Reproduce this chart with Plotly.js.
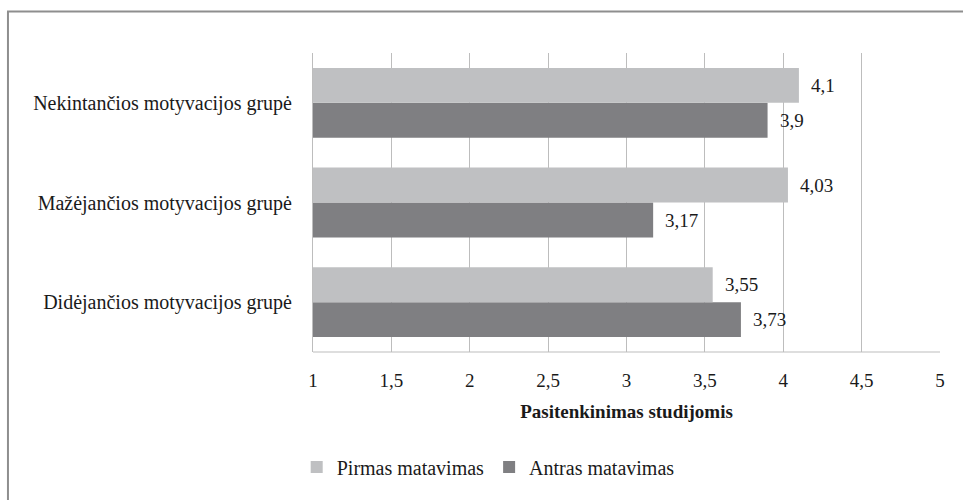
<!DOCTYPE html>
<html>
<head>
<meta charset="utf-8">
<script src="https://cdn.plot.ly/plotly-3.0.1.min.js"></script>
<style>
  #chart svg text { font-family: 'Times New Roman', serif !important; }
</style>
</head>
<body style="margin:0">
<div id="chart" style="width:963px;height:500px"></div>
<script>
// Categories, bottom to top as drawn
const categories = ["Didėjančios motyvacijos grupė", "Mažėjančios motyvacijos grupė", "Nekintančios motyvacijos grupė"];
const pirmas = [3.55, 4.03, 4.1];
const antras = [3.73, 3.17, 3.9];
const seriesNames = ["Pirmas matavimas", "Antras matavimas"];
const tickVals = [1, 1.5, 2, 2.5, 3, 3.5, 4, 4.5, 5];

const ff = 'Times New Roman';
const tc = '#1a1a1a';
const fmt = v => String(v).replace('.', ',');

const traces = [
  { type: 'bar', orientation: 'h', name: seriesNames[1], y: categories, x: antras,
    marker: { color: '#7f7f82' } },
  { type: 'bar', orientation: 'h', name: seriesNames[0], y: categories, x: pirmas,
    marker: { color: '#bfc0c2' } }
];

const annotations = [];
categories.forEach((c, i) => {
  annotations.push({ x: pirmas[i], y: c, text: fmt(pirmas[i]), xref: 'x', yref: 'y',
    xanchor: 'left', yanchor: 'middle', xshift: 10, yshift: 17.5, showarrow: false,
    font: { family: ff, size: 19, color: tc } });
  annotations.push({ x: antras[i], y: c, text: fmt(antras[i]), xref: 'x', yref: 'y',
    xanchor: 'left', yanchor: 'middle', xshift: 10, yshift: -17.5, showarrow: false,
    font: { family: ff, size: 19, color: tc } });
});

const layout = {
  width: 963, height: 500,
  margin: { l: 313, r: 23, t: 53, b: 148 },
  separators: ', ',
  barmode: 'group', bargap: 0.3, bargroupgap: 0,
  font: { family: ff, size: 19, color: tc },
  xaxis: {
    range: [1, 5], tickvals: tickVals, ticktext: tickVals.map(fmt),
    showgrid: true, gridcolor: '#bdbdbd', gridwidth: 1,
    zeroline: false, showline: false, ticks: '',
    ticklabelstandoff: 15,
    tickfont: { family: ff, size: 19, color: tc },
    title: { text: '<b>Pasitenkinimas studijomis</b>', standoff: 14,
             font: { family: ff, size: 19, color: tc } }
  },
  yaxis: {
    type: 'category', showgrid: false, zeroline: false,
    showline: true, linecolor: '#bdbdbd', linewidth: 1,
    ticks: '', ticklabelstandoff: 16,
    tickfont: { family: ff, size: 20, color: tc }
  },
  shapes: [
    { type: 'line', xref: 'paper', yref: 'paper', x0: 0, x1: 1, y0: 0, y1: 0,
      line: { color: '#bdbdbd', width: 1 } },
    { type: 'line', xref: 'paper', yref: 'paper', x0: -0.4865, x1: -0.4865, y0: 1.139, y1: -0.6,
      line: { color: '#8e8e8e', width: 2 } },
    { type: 'line', xref: 'paper', yref: 'paper', x0: -0.488, x1: 1.1, y0: 1.139, y1: 1.139,
      line: { color: '#8e8e8e', width: 2 } }
  ],
  legend: {
    orientation: 'h', traceorder: 'reversed',
    x: -0.026, xanchor: 'left', y: -0.385, yanchor: 'middle',
    font: { family: ff, size: 20, color: tc },
    itemwidth: 30
  },
  annotations: annotations,
  showlegend: true
};

Plotly.newPlot('chart', traces, layout, { displayModeBar: false, staticPlot: true });
</script>
</body>
</html>
